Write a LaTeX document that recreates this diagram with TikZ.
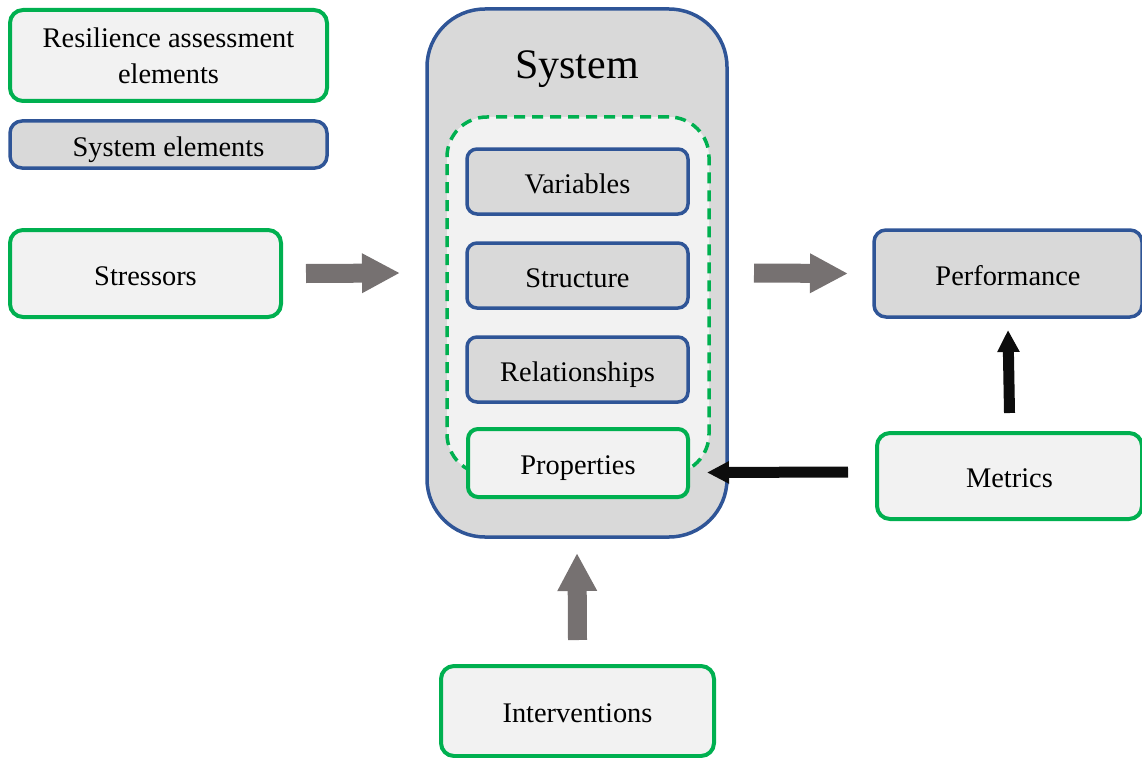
\documentclass[tikz,border=0pt]{standalone}
\usepackage{fontspec}
\setmainfont{Liberation Serif}
\usetikzlibrary{arrows.meta,calc}
\definecolor{cgreen}{HTML}{00B050}
\definecolor{cblue}{HTML}{2F5597}
\definecolor{cgray}{HTML}{D9D9D9}
\definecolor{clight}{HTML}{F2F2F2}
\definecolor{carrow}{HTML}{767171}
\definecolor{cblack}{HTML}{0D0D0D}
\begin{document}
\begin{tikzpicture}[x=1pt,y=-1pt,
  every node/.style={font=\fontsize{28.4}{35}\selectfont, inner sep=0pt, outer sep=0pt},
  oneline/.style={text height=23pt, text depth=0pt},
  gbox/.style={draw=cgreen, fill=clight, line width=4pt, rounded corners=13pt, anchor=north west},
  bbox/.style={draw=cblue, fill=cgray, line width=3.5pt, rounded corners=12pt, anchor=north west},
  grayarrow/.style={draw=carrow, line width=19pt, -{Triangle[width=37pt,length=38pt]}, color=carrow},
  blackarrow/.style={draw=cblack, line width=11pt, -{Triangle[width=21pt,length=22pt]}, color=cblack},
]
\useasboundingbox (0,0) rectangle (1142,757);
% legend
\node[gbox, minimum width=317, minimum height=91, align=center, font=\fontsize{28.4}{36}\selectfont] (leg1) at (10,10) {\raisebox{-2pt}{Resilience assessment}\\\raisebox{-2pt}{elements}};
\node[bbox, oneline, minimum width=317, minimum height=47] (leg2) at (10,121) {System elements};
% system
\node[bbox, rounded corners=58pt, minimum width=300, minimum height=528] (sys) at (427,9) {};
\node[font=\fontsize{42}{46}\selectfont] (systitle) at (577,69) {System};
\node[draw=cgreen, fill=clight, line width=3.5pt, dash pattern=on 11pt off 7pt, rounded corners=40pt, minimum width=262, minimum height=357, anchor=north west] (group) at (447,117) {};
\node[bbox, oneline, rounded corners=10pt, minimum width=221, minimum height=65] (vars) at (467,149) {Variables};
\node[bbox, oneline, rounded corners=10pt, minimum width=221, minimum height=65] (struct) at (467,243) {Structure};
\node[bbox, oneline, rounded corners=10pt, minimum width=221, minimum height=65] (rel) at (467,337) {Relationships};
\node[gbox, oneline, rounded corners=10pt, minimum width=220, minimum height=68] (props) at (468,429) {Properties};
% outer nodes
\node[gbox, oneline, minimum width=271, minimum height=87] (stress) at (10,230) {Stressors};
\node[bbox, oneline, minimum width=268, minimum height=87] (perf) at (874,230) {Performance};
\node[gbox, oneline, minimum width=265, minimum height=86] (metrics) at (877,433) {Metrics};
\node[gbox, oneline, minimum width=273, minimum height=90] (interv) at (441,666) {Interventions};
% arrows
\draw[grayarrow] ([xshift=25]stress.east) -- ([xshift=-27]sys.west);
\draw[grayarrow] ([xshift=27]sys.east) -- ([xshift=-26]perf.west);
\draw[grayarrow] ([yshift=26]interv.north) -- ([yshift=-16]sys.south);
\draw[blackarrow] ([yshift=20]metrics.north) -- ([yshift=-13]perf.south);
\draw[blackarrow] ([shift={(-29,-4)}]metrics.west) -- ([shift={(19,9.5)}]props.east);
\end{tikzpicture}
\end{document}
